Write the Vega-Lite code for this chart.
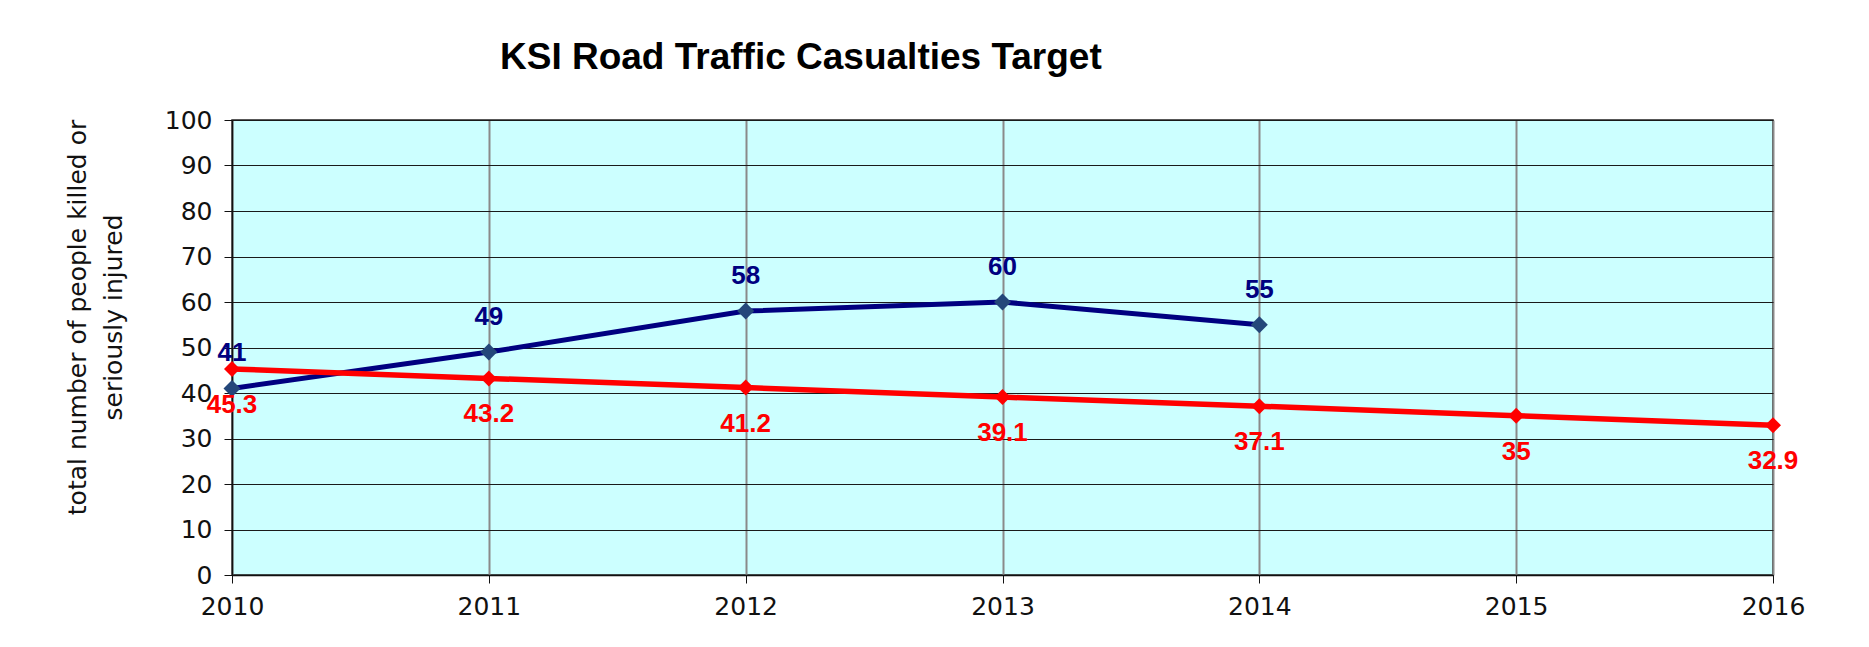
{
  "$schema": "https://vega.github.io/schema/vega-lite/v6.json",
  "width": 1541,
  "height": 455,
  "autosize": {"type": "none"},
  "padding": {"left": 232, "top": 120, "right": 96, "bottom": 72},
  "background": "white",
  "config": {
    "view": {"fill": "#CCFFFF", "stroke": "#222222", "strokeWidth": 1.5},
    "axis": {
      "labelFont": "DejaVu Sans",
      "labelFontSize": 25,
      "labelColor": "#111111",
      "tickColor": "#111111",
      "tickSize": 8,
      "domainColor": "#111111",
      "domainWidth": 1.5,
      "titleFont": "DejaVu Sans",
      "titleFontWeight": "normal",
      "titleColor": "#111111"
    }
  },
  "title": {
    "text": "KSI Road Traffic Casualties Target",
    "anchor": "start",
    "dx": 435,
    "offset": 31,
    "font": "Liberation Sans",
    "fontSize": 37,
    "fontWeight": "bold",
    "color": "#000000"
  },
  "data": {
    "values": [
      {"year": 2010, "series": "Actual", "value": 41},
      {"year": 2011, "series": "Actual", "value": 49},
      {"year": 2012, "series": "Actual", "value": 58},
      {"year": 2013, "series": "Actual", "value": 60},
      {"year": 2014, "series": "Actual", "value": 55},
      {"year": 2010, "series": "Target", "value": 45.3},
      {"year": 2011, "series": "Target", "value": 43.2},
      {"year": 2012, "series": "Target", "value": 41.2},
      {"year": 2013, "series": "Target", "value": 39.1},
      {"year": 2014, "series": "Target", "value": 37.1},
      {"year": 2015, "series": "Target", "value": 35},
      {"year": 2016, "series": "Target", "value": 32.9}
    ]
  },
  "encoding": {
    "x": {
      "field": "year",
      "type": "quantitative",
      "scale": {"domain": [2010, 2016], "nice": false, "zero": false},
      "axis": {
        "values": [2010, 2011, 2012, 2013, 2014, 2015, 2016],
        "format": "d",
        "title": null,
        "labelPadding": 11,
        "grid": true,
        "gridColor": "#8a8a8a",
        "gridWidth": 2,
        "gridOpacity": 1,
        "labelFlush": false,
        "labelOverlap": false
      }
    },
    "y": {
      "field": "value",
      "type": "quantitative",
      "scale": {"domain": [0, 100], "nice": false},
      "axis": {
        "values": [0, 10, 20, 30, 40, 50, 60, 70, 80, 90, 100],
        "title": ["total number of people killed or", "seriously injured"],
        "titleFontSize": 25,
        "titleLineHeight": 36,
        "titleAngle": -90,
        "titleAlign": "center",
        "titleBaseline": "middle",
        "titleX": -155,
        "titleY": 197,
        "labelPadding": 12,
        "grid": true,
        "gridColor": "#1a1a1a",
        "gridWidth": 1,
        "gridOpacity": 1,
        "labelFlush": false
      }
    }
  },
  "layer": [
    {
      "transform": [{"filter": "datum.series === 'Actual'"}],
      "mark": {"type": "line", "color": "#000080", "strokeWidth": 5},
      "encoding": {}
    },
    {
      "transform": [{"filter": "datum.series === 'Actual'"}],
      "mark": {"type": "point", "shape": "diamond", "filled": true, "size": 289, "color": "#24477A", "opacity": 1},
      "encoding": {}
    },
    {
      "transform": [{"filter": "datum.series === 'Target'"}],
      "mark": {"type": "line", "color": "#FF0000", "strokeWidth": 5.5},
      "encoding": {}
    },
    {
      "transform": [{"filter": "datum.series === 'Target'"}],
      "mark": {"type": "point", "shape": "diamond", "filled": true, "size": 256, "color": "#FF0000", "opacity": 1},
      "encoding": {}
    },
    {
      "transform": [{"filter": "datum.series === 'Actual'"}],
      "mark": {"type": "text", "dy": -35, "baseline": "middle", "align": "center", "font": "Liberation Sans", "fontSize": 26, "fontWeight": "bold", "color": "#000080"},
      "encoding": {"text": {"field": "value", "type": "quantitative"}}
    },
    {
      "transform": [{"filter": "datum.series === 'Target'"}],
      "mark": {"type": "text", "dy": 36, "baseline": "middle", "align": "center", "font": "Liberation Sans", "fontSize": 26, "fontWeight": "bold", "color": "#FF0000"},
      "encoding": {"text": {"field": "value", "type": "quantitative"}}
    }
  ]
}
